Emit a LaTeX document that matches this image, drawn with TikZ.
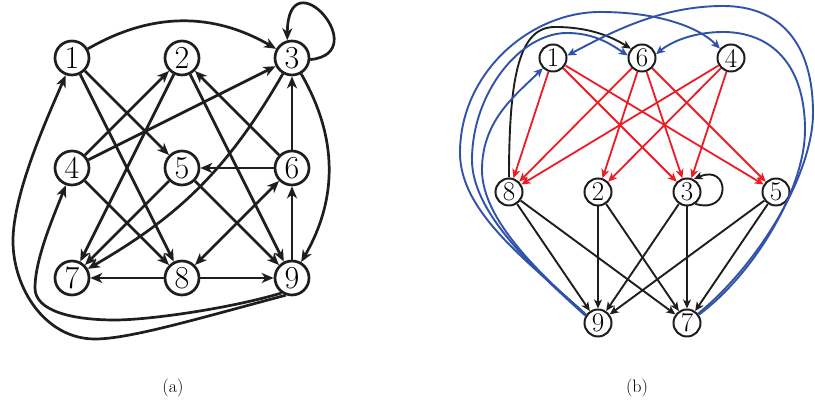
\documentclass[tikz,border=0pt]{standalone}
\usepackage{fontspec}
\usetikzlibrary{arrows.meta}
\definecolor{myred}{RGB}{237,28,36}
\definecolor{myblue}{RGB}{48,82,168}
\definecolor{myblack}{RGB}{30,30,30}
\begin{document}
\begin{tikzpicture}[x=1pt,y=1pt,
 anode/.style={circle,draw=myblack,line width=2.7pt,minimum size=34pt,inner sep=0pt,font=\fontsize{32}{32}\selectfont},
 bnode/.style={circle,draw=myblack,line width=2pt,minimum size=27pt,inner sep=0pt,font=\fontsize{27}{27}\selectfont},
 atip/.tip={Stealth[length=12pt,width=10pt,inset=3.5pt]},
 btip/.tip={Stealth[length=9pt,width=8pt,inset=2.5pt]},
 ea/.style={draw=myblack,line width=2.7pt,-atip},
 eab/.style={draw=myblack,line width=2.7pt,atip-atip},
 blk/.style={draw=myblack,line width=1.9pt,-btip},
 rd/.style={draw=myred,line width=1.8pt,-btip},
 bl/.style={draw=myblue,line width=1.9pt,-btip},
 captext/.style={font=\fontsize{18}{18}\selectfont}
]
\useasboundingbox (0,0) rectangle (815,403);
% ---------- panel (a)
\node[anode] (a1) at (72,345) {1};
\node[anode] (a2) at (182,345) {2};
\node[anode] (a3) at (292,345) {3};
\node[anode] (a4) at (72,235) {4};
\node[anode] (a5) at (182,235) {5};
\node[anode] (a6) at (292,235) {6};
\node[anode] (a7) at (72,125) {7};
\node[anode] (a8) at (182,125) {8};
\node[anode] (a9) at (292,125) {9};

\draw[ea] (a1) to[bend left=30] (a3);
\draw[ea] (a3.-5) .. controls (375,350) and (288,448) .. (a3.105);
\draw[ea] (a3) to[bend left=30] (a9);
\draw[ea] (a3) to[bend left=15] (a7);
\draw[ea] (a1) -- (a5);
\draw[ea] (a1) -- (a8);
\draw[ea] (a4) -- (a2);
\draw[ea] (a4) -- (a3);
\draw[ea] (a2) -- (a7);
\draw[ea] (a2) -- (a9);
\draw[ea] (a6) -- (a2);
\draw[ea] (a6) -- (a3);
\draw[ea] (a6) -- (a5);
\draw[ea] (a4) -- (a8);
\draw[ea] (a5) -- (a7);
\draw[ea] (a5) -- (a9);
\draw[eab] (a8) -- (a6);
\draw[ea] (a8) -- (a7);
\draw[ea] (a8) -- (a9);
\draw[ea] (a9) -- (a6);
\draw[ea] (a9.250) .. controls (200,85) and (130,64) .. (95,64)
  .. controls (45,64) and (13,115) .. (13,162)
  .. controls (13,210) and (48,287) .. (a1.250);
\draw[ea] (a9.235) .. controls (232,95) and (150,83) .. (115,83)
  .. controls (72,83) and (35,92) .. (35,115)
  .. controls (35,145) and (55,190) .. (a4.250);
\node[captext] (capa) at (173,15) {(a)};

% ---------- panel (b)
\node[bnode] (b1) at (553,345) {1};
\node[bnode] (b6) at (642,345) {6};
\node[bnode] (b4) at (731,345) {4};
\node[bnode] (b8) at (509,211) {8};
\node[bnode] (b2) at (598,211) {2};
\node[bnode] (b3) at (687,211) {3};
\node[bnode] (b5) at (776,211) {5};
\node[bnode] (b9) at (598,80) {9};
\node[bnode] (b7) at (687,80) {7};

\draw[rd] (b1) -- (b8);
\draw[rd] (b1) -- (b3);
\draw[rd] (b1) -- (b5);
\draw[rd] (b6) -- (b8);
\draw[rd] (b6) -- (b2);
\draw[rd] (b6) -- (b3);
\draw[rd] (b6) -- (b5);
\draw[rd] (b4) -- (b8);
\draw[rd] (b4) -- (b2);
\draw[rd] (b4) -- (b3);

\draw[blk] (b8) -- (b9);
\draw[blk] (b8) -- (b7);
\draw[blk] (b2) -- (b9);
\draw[blk] (b2) -- (b7);
\draw[blk] (b3) -- (b9);
\draw[blk] (b3) -- (b7);
\draw[blk] (b5) -- (b9);
\draw[blk] (b5) -- (b7);
\draw[blk] (b3.-55) .. controls (732,188) and (730,240) .. (b3.62);
\draw[blk] (b8.90) .. controls (509,330) and (520,376) .. (555,376)
  .. controls (590,376) and (612,366) .. (b6.140);

\draw[bl] (b9.146) .. controls (541,128) and (482,183) .. (482,233)
  .. controls (482,283) and (516,308) .. (b1.225);
\draw[bl] (b9.150) .. controls (536,132) and (472,190) .. (472,243)
  .. controls (472,310) and (520,370) .. (567,370)
  .. controls (595,370) and (612,358) .. (b6.170);
\draw[bl] (b9.145) .. controls (530,140) and (460,190) .. (460,250)
  .. controls (460,330) and (530,391) .. (600,391)
  .. controls (660,391) and (700,375) .. (b4.140);
\draw[bl] (b7.40) .. controls (760,140) and (813,230) .. (813,290)
  .. controls (813,360) and (780,397) .. (723,397)
  .. controls (660,397) and (610,370) .. (b1.10);
\draw[bl] (b7.35) .. controls (755,130) and (805,215) .. (805,273)
  .. controls (805,340) and (770,371) .. (723,371)
  .. controls (695,371) and (672,362) .. (b6.15);
\node[captext] (capb) at (637,15) {(b)};
\end{tikzpicture}
\end{document}
